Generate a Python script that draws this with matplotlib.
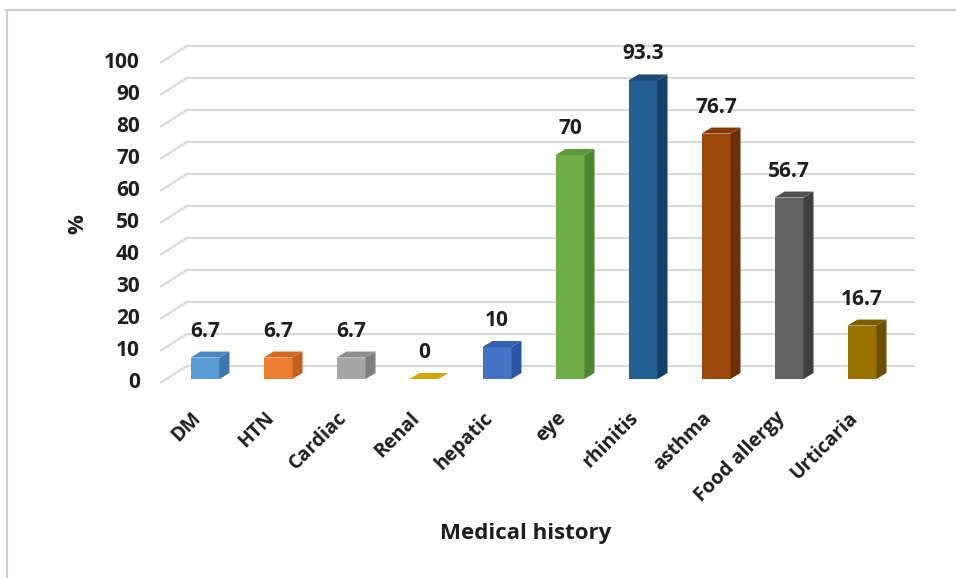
import matplotlib.pyplot as plt
from matplotlib.patches import Polygon
from matplotlib.lines import Line2D
import numpy as np

plt.rcParams['font.family'] = ['Open Sans', 'DejaVu Sans']

categories = ['DM', 'HTN', 'Cardiac', 'Renal', 'hepatic', 'eye', 'rhinitis',
              'asthma', 'Food allergy', 'Urticaria']
values = [6.7, 6.7, 6.7, 0, 10, 70, 93.3, 76.7, 56.7, 16.7]
yticks = list(range(0, 101, 10))

front_colors = ['#5B9BD5', '#ED7D31', '#A5A5A5', '#D4A500', '#4472C4',
                '#70AD47', '#255E91', '#9E480E', '#636363', '#997300']
side_colors = ['#3E78AE', '#C0601C', '#7F7F7F', '#A88300', '#2C55A0',
               '#4E8530', '#173F66', '#6E2F08', '#404040', '#6A5000']
top_colors = ['#4A86C0', '#D46A22', '#8E8E8E', '#C39800', '#3660B0',
              '#5E9A3C', '#1C4B7A', '#823A0A', '#505050', '#7D5E00']

W, H = 956, 578
fig = plt.figure(figsize=(W / 100, H / 100), dpi=100)

# axes covers pixels x 100..940, y 30..400; 73 px per category, 3.2 px per unit
px0, px1, py0, py1 = 100, 940, 30, 400
ax = fig.add_axes([px0 / W, 1 - py1 / H, (px1 - px0) / W, (py1 - py0) / H])
ax.set_xlim((px0 - 205) / 73, (px1 - 205) / 73)
ax.set_ylim((379 - py1) / 3.2, (379 - py0) / 3.2)
ax.axis('off')

sx, sy = 1 / 73, 1 / 3.2  # pixel -> data scale
# floor/back-wall geometry (pixels converted to data)
x_front = (160 - 205) * sx
depth_dx, depth_dy = 27 * sx, 17 * sy
x_right = (915 - 205) * sx
front_off = -4 * sy

txt_c = '#1E1E1E'
grid_c = '#D9D9D9'
for t in yticks:
    yf = t + front_off
    yb = yf + depth_dy
    ax.plot([x_front, x_front + depth_dx, x_right], [yf, yb, yb],
            color=grid_c, lw=1.5, solid_capstyle='butt', zorder=1)
    ax.text(x_front - 20 * sx, yf, str(t), ha='right', va='center',
            fontsize=15, fontweight='bold', color=txt_c)

# 3D-looking columns
bw = 29 * sx
bdx, bdy = 10 * sx, 6 * sy
for i, (v, fc, scol, tc) in enumerate(zip(values, front_colors, side_colors, top_colors)):
    xl, xr = i - bw / 2, i + bw / 2
    if v > 0:
        ax.add_patch(Polygon([(xl, 0), (xr, 0), (xr, v), (xl, v)],
                             closed=True, fc=fc, ec='none', zorder=3))
        ax.add_patch(Polygon([(xr, 0), (xr + bdx, bdy), (xr + bdx, v + bdy), (xr, v)],
                             closed=True, fc=scol, ec='none', zorder=3))
    ax.add_patch(Polygon([(xl, v), (xr, v), (xr + bdx, v + bdy), (xl + bdx, v + bdy)],
                         closed=True, fc=tc if v > 0 else fc, ec='none', zorder=3))
    ax.text(i, v + bdy + 10 * sy, f'{v:g}', ha='center', va='bottom',
            fontsize=15, fontweight='bold', color=txt_c)
    ax.text(i - 7 * sx, -36 * sy, categories[i], rotation=45, rotation_mode='anchor',
            ha='right', va='center', fontsize=14, fontweight='bold', color=txt_c)

fig.text(526 / W, 1 - 533 / H, 'Medical history', ha='center', va='center',
         fontsize=16, fontweight='bold', color=txt_c)
fig.text(78 / W, 1 - 224 / H, '%', ha='center', va='center', rotation=90,
         fontsize=16, fontweight='bold', color=txt_c)

# chart frame (top and left edges)
fig.add_artist(Line2D([5 / W, 1], [1 - 9.5 / H, 1 - 9.5 / H], color='#D0D0D0', lw=1.5))
fig.add_artist(Line2D([7 / W, 7 / W], [0, 1 - 9.5 / H], color='#D0D0D0', lw=1.5))

fig.savefig('out.png', dpi=100, facecolor='white')
